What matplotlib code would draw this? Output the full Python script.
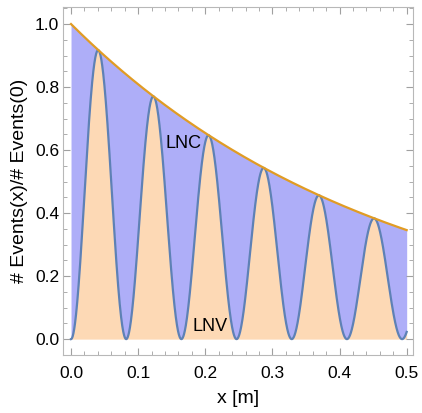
import numpy as np
import matplotlib.pyplot as plt
from matplotlib.ticker import MultipleLocator

# values
x_max = 0.5            # end of the x range [m]
envelope_start = 1.0   # # Events(x)/# Events(0) at x = 0
envelope_end = 0.346   # value of the LNC envelope at x = 0.5
osc_period = 0.0822    # distance between LNV minima [m]

labels = ['LNC', 'LNV']
label_pos = [(0.168, 0.62), (0.207, 0.041)]

plt.rcParams['font.family'] = ['Liberation Sans', 'DejaVu Sans']

decay = x_max / np.log(envelope_start / envelope_end)
x = np.linspace(0, x_max, 2000)
lnc = envelope_start * np.exp(-x / decay)
lnv = lnc * np.sin(np.pi * x / osc_period) ** 2

fig, ax = plt.subplots(figsize=(4.22, 4.13), dpi=100)
fig.subplots_adjust(left=0.150, right=0.978, top=0.983, bottom=0.140)

ax.fill_between(x, 0, lnv, color='#fdd9b5', lw=0)
ax.fill_between(x, lnv, lnc, color='#aeaef8', lw=0)
ax.plot(x, lnv, color='#5e81b5', lw=1.6)
ax.plot(x, lnc, color='#e19c24', lw=1.6)

for lab, (lx, ly) in zip(labels, label_pos):
    ax.text(lx, ly, lab, ha='center', va='center', fontsize=13)

ax.set_xlim(-0.0115, 0.509)
ax.set_ylim(-0.051, 1.054)
ax.xaxis.set_major_locator(MultipleLocator(0.1))
ax.xaxis.set_minor_locator(MultipleLocator(0.02))
ax.yaxis.set_major_locator(MultipleLocator(0.2))
ax.yaxis.set_minor_locator(MultipleLocator(0.05))
ax.xaxis.set_major_formatter(plt.FormatStrFormatter('%.1f'))
ax.yaxis.set_major_formatter(plt.FormatStrFormatter('%.1f'))

for s in ax.spines.values():
    s.set_color('#b8b8b8')
ax.tick_params(which='both', direction='in', top=True, right=True, color='#a0a0a0',
               labelsize=12.5)
ax.tick_params(axis='x', pad=8)
ax.tick_params(axis='y', pad=3)
ax.tick_params(which='major', length=5, width=0.8)
ax.tick_params(which='minor', length=3, width=0.6)

ax.set_xlabel('x [m]', fontsize=14, labelpad=6)
ax.set_ylabel('# Events(x)/# Events(0)', fontsize=14, labelpad=5)

fig.savefig('out.png', dpi=100)
